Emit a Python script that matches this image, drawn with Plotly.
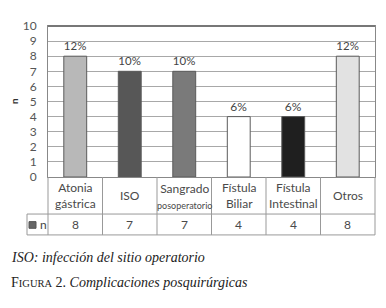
import plotly.graph_objects as go

categories = ["Atonia<br>gástrica", "ISO", "Sangrado<br><span style='font-size:9px'>posoperatorio</span>",
              "Fístula<br>Biliar", "Fístula<br>Intestinal", "Otros"]
counts = [8, 7, 7, 4, 4, 8]
percent_labels = ["12%", "10%", "10%", "6%", "6%", "12%"]
bar_colors = ["#b8b8b8", "#575757", "#7a7a7a", "#ffffff", "#1f1f1f", "#e2e2e2"]
y_ticks = list(range(0, 11))

OFF = 8  # page body margin
W, H = 386 - OFF, 308 - OFF
L, T = 48 - OFF, 18 - OFF
R = W - (375 - OFF)
B = H - (177 - OFF)
pw = W - L - R
ph = H - T - B

def py(pix):  # reference pixel y -> paper y
    return (H - B - (pix - OFF)) / ph

def px(pix):
    return (pix - OFF - L) / pw

font = "Lato, Open Sans, sans-serif"
xs = list(range(len(categories)))

fig = go.Figure()
fig.add_trace(go.Bar(
    x=xs, y=counts, width=0.42,
    marker=dict(color=bar_colors, line=dict(color="#5a5a5a", width=1)),
    text=percent_labels, textposition="outside", cliponaxis=False,
    textfont=dict(family=font, size=12, color="#444"),
    hoverinfo="skip",
))

fig.update_layout(
    width=W, height=H, margin=dict(l=L, r=R, t=T, b=B),
    paper_bgcolor="white", plot_bgcolor="white", showlegend=False,
    xaxis=dict(range=[-0.5, len(categories) - 0.5], showticklabels=False, showgrid=False,
               zeroline=False, showline=True, linecolor="#888", linewidth=1, mirror=True, fixedrange=True),
    yaxis=dict(range=[0, 10], tickvals=y_ticks, showgrid=True, gridcolor="#a8a8a8", gridwidth=1,
               zeroline=False, showline=True, linecolor="#888", linewidth=1, mirror=True,
               tickfont=dict(family=font, size=12, color="#555"), ticks="", ticklabelstandoff=8,
               fixedrange=True),
)

shapes = []
line = dict(color="#999", width=1)
shapes.append(dict(type="line", xref="paper", yref="paper", x0=0, x1=1, y0=1, y1=1,
                   line=dict(color="#777", width=2)))
for yy in (216, 238):
    shapes.append(dict(type="line", xref="paper", yref="paper", x0=px(27), x1=1, y0=py(yy), y1=py(yy), line=line))
for i in range(len(categories) + 1):
    xp = i / len(categories)
    shapes.append(dict(type="line", xref="paper", yref="paper", x0=xp, x1=xp, y0=0, y1=py(238), line=line))
shapes.append(dict(type="line", xref="paper", yref="paper", x0=px(27), x1=px(27), y0=py(216), y1=py(238), line=line))
shapes.append(dict(type="rect", xref="paper", yref="paper", x0=px(29), x1=px(36), y0=py(231), y1=py(224),
                   fillcolor="#666", line=dict(color="#555", width=1)))
fig.update_layout(shapes=shapes)

ann = []
for i, c in enumerate(categories):
    ann.append(dict(x=i, xref="x", y=py(196.5), yref="paper", text=c, showarrow=False,
                    font=dict(family=font, size=12, color="#4a4a4a"), xanchor="center", yanchor="middle"))
    ann.append(dict(x=i, xref="x", y=py(227), yref="paper", text=str(counts[i]), showarrow=False,
                    font=dict(family=font, size=12, color="#4a4a4a"), xanchor="center", yanchor="middle"))
ann.append(dict(x=px(38), xref="paper", y=py(227), yref="paper", text="n", showarrow=False,
                font=dict(family=font, size=12, color="#444"), xanchor="left", yanchor="middle"))
ann.append(dict(x=px(14), xref="paper", y=py(97), yref="paper", text="<b>n</b>", showarrow=False, textangle=-90,
                font=dict(family=font, size=10, color="#333"), xanchor="center", yanchor="middle", borderpad=0))
serif = "Liberation Serif, Times New Roman, serif"
ann.append(dict(x=px(9), xref="paper", y=py(262), yref="paper", text="<i>ISO: infección del sitio operatorio</i>",
                showarrow=False, font=dict(family=serif, size=14, color="#222"), xanchor="left", yanchor="middle"))
ann.append(dict(x=px(9), xref="paper", y=py(288), yref="paper",
                text="F<span style='font-size:10.5px'>IGURA</span> 2. <i>Complicaciones posquirúrgicas</i>",
                showarrow=False, font=dict(family=serif, size=14, color="#222"), xanchor="left", yanchor="middle"))
fig.update_layout(annotations=ann)

fig.write_html("out.html")
